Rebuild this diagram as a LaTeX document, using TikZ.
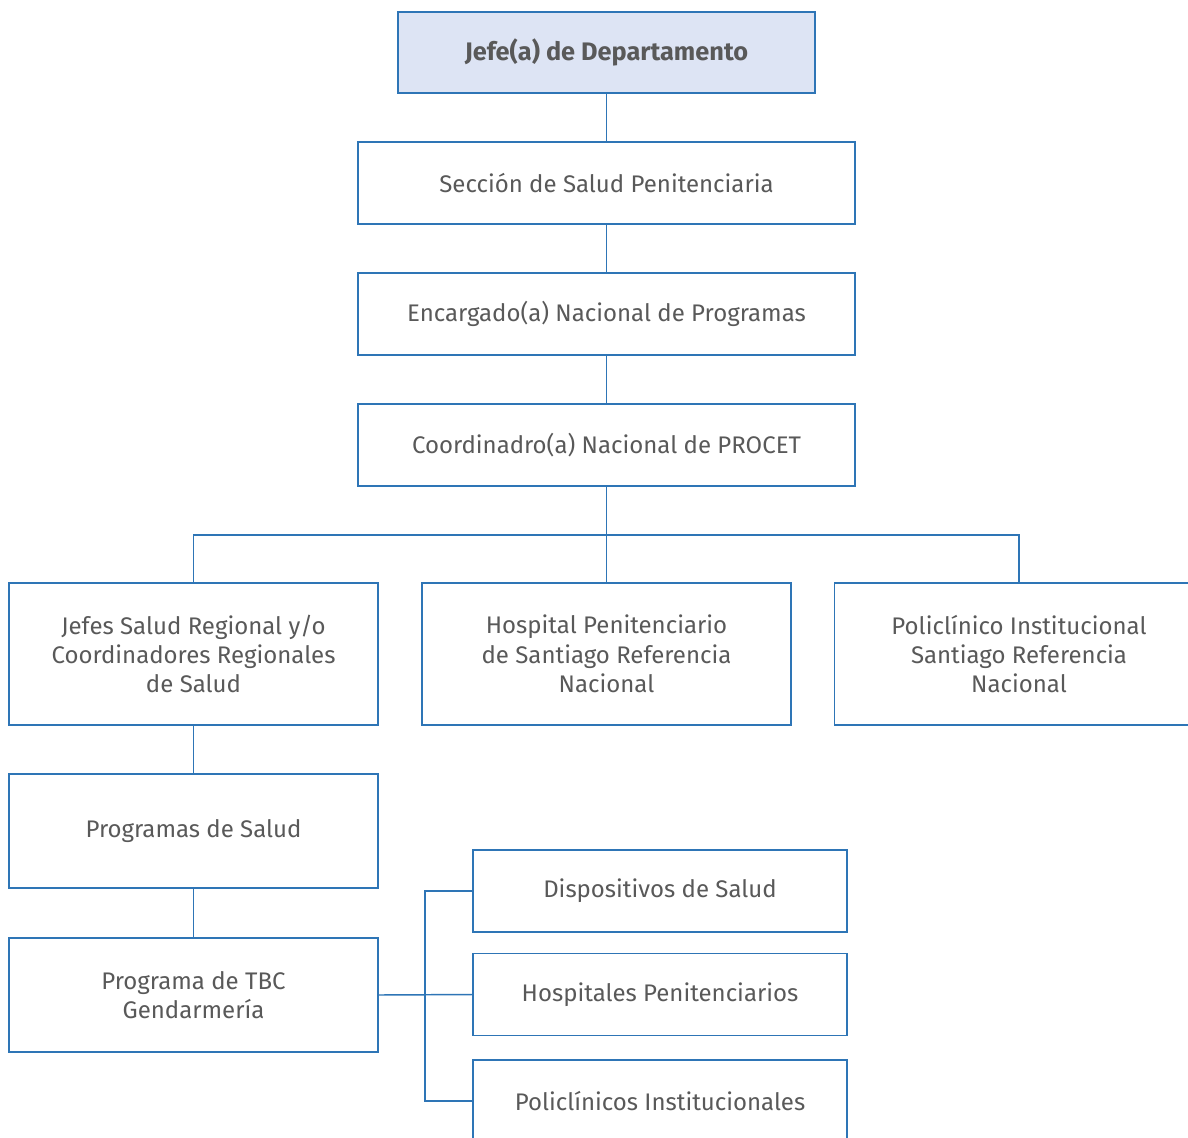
\documentclass[tikz,border=0pt]{standalone}
\usepackage{fontspec}
\setmainfont{Fira Sans}
\definecolor{lineblue}{HTML}{2E75B6}
\definecolor{topfill}{HTML}{DDE4F4}
\definecolor{txt}{HTML}{595959}
\begin{document}
\begin{tikzpicture}[x=0.75pt,y=-0.75pt,
  box/.style={draw=lineblue,line width=1.1pt,fill=white,text=txt,align=center,
    inner sep=0pt,font=\fontsize{18}{22}\selectfont},
  wide/.style={box,minimum width=372.75pt,minimum height=61.5pt},
  mid/.style={box,minimum width=276.75pt,minimum height=106.5pt},
  low/.style={box,minimum width=276.75pt,minimum height=85.5pt},
  sub/.style={box,minimum width=280.5pt,minimum height=61.5pt},
  conn/.style={draw=lineblue,line width=1.1pt}]
\useasboundingbox (0,0) rectangle (1188,1138);
\clip (0,0) rectangle (1188,1138);
\fill[white] (0,0) rectangle (1188,1138);
\node[box,fill=topfill,minimum width=312.75pt,minimum height=60.75pt,font=\fontsize{19}{22}\selectfont\bfseries] (jefe) at (606.5,52.5) {Jefe(a) de Departamento};
\node[wide] (sec) at (606.5,183) {Sección de Salud Penitenciaria};
\node[wide] (enc) at (606.5,314) {Encargado(a) Nacional de Programas};
\node[wide] (coord) at (606.5,445) {Coordinadro(a) Nacional de PROCET};
\node[mid] (jefes) at (193.5,654) {Jefes Salud Regional y/o\\Coordinadores Regionales\\de Salud};
\node[mid] (hosp) at (606.5,654) {Hospital Penitenciario\\de Santiago Referencia\\Nacional};
\node[mid] (polic) at (1019,654) {Policlínico Institucional\\Santiago Referencia\\Nacional};
\node[low] (prog) at (193.5,831) {Programas de Salud};
\node[low] (tbc) at (193.5,995) {Programa de TBC\\Gendarmería};
\node[sub] (disp) at (660,891) {Dispositivos de Salud};
\node[sub] (hosps) at (660,994.5) {Hospitales Penitenciarios};
\node[sub] (polis) at (660,1101) {Policlínicos Institucionales};
\coordinate (bus) at (606.5,535);
\coordinate (br) at (425,995);
\draw[conn] (jefe) -- (sec);
\draw[conn] (sec) -- (enc);
\draw[conn] (enc) -- (coord);
\draw[conn] (coord) -- (hosp);
\draw[conn] (jefes.north) |- (bus) -| (polic.north);
\draw[conn] (jefes) -- (prog);
\draw[conn] (prog) -- (tbc);
\draw[conn] (tbc.east) -- (hosps.west);
\draw[conn] (disp.west) -| (br) |- (polis.west);
\end{tikzpicture}
\end{document}
